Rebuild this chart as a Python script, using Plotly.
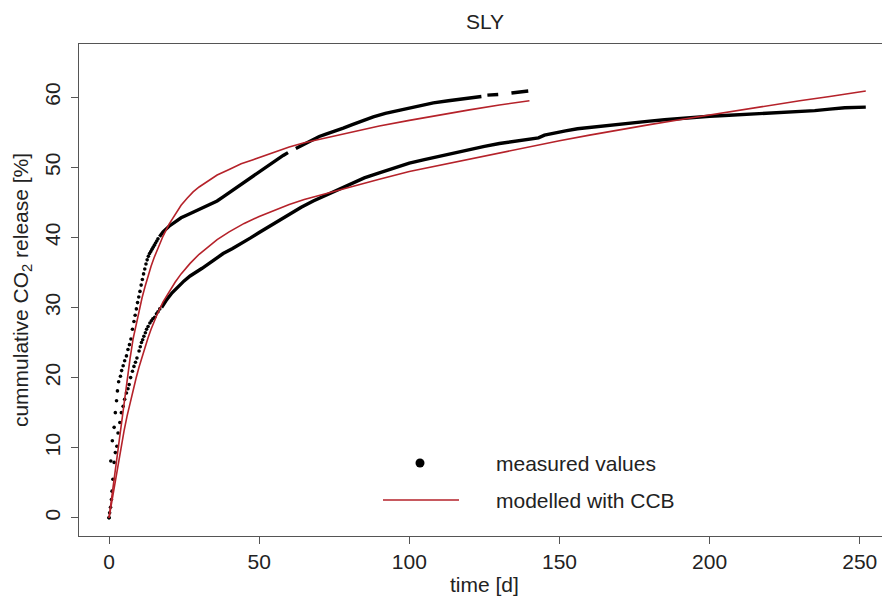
import plotly.graph_objects as go

# ---------------- data ----------------
# measured, incubation A (ends ~140 d): sparse early readings
a_early_t = [0.0, 0.6, 1.1, 1.7, 2.1, 2.5, 2.8, 3.2, 3.8, 4.2, 4.7, 5.2, 5.8, 6.3, 6.8, 7.3, 7.8,
             8.3, 8.7, 9.1, 9.5, 9.9, 10.3, 10.7, 11.1, 11.5, 11.9, 12.3, 12.7, 13.1, 13.5, 13.9,
             14.3, 14.7, 15.1, 15.5, 15.9, 16.3]
a_early_v = [0.0, 8.1, 11.0, 12.9, 15.0, 16.7, 18.1, 19.4, 20.2, 21.0, 21.7, 22.4, 23.1, 24.0, 24.7, 25.5, 26.9,
             28.0, 28.9, 29.8, 30.7, 31.5, 32.3, 33.2, 34.0, 34.8, 35.5, 36.2, 36.8, 37.3, 37.7, 38.0,
             38.3, 38.6, 38.9, 39.2, 39.5, 39.8]
# measured, incubation A: dense readings (None = gap in record)
a_dense_t = [16.8, 18, 20, 22, 24, 26, 28, 30, 32, 34, 36, 38, 40, 42, 44, 46, 48, 50, 52, 54, 56, 58, 59.6,
             None, 62.2, 64, 66, 68, 70, 72, 75, 78, 81, 84, 88, 92, 96, 100, 104, 108, 113, 118, 124,
             None, 126, 129.6, None, 134, 137, 139.6]
a_dense_v = [40.1, 40.8, 41.6, 42.2, 42.8, 43.2, 43.6, 43.9, 44.3, 44.7, 45.2, 45.8, 46.4, 47.0, 47.6, 48.2,
             48.8, 49.4, 50.0, 50.6, 51.2, 51.7, 52.1,
             None, 52.7, 53.1, 53.5, 54.0, 54.4, 54.7, 55.1, 55.6, 56.1, 56.6, 57.2, 57.7, 58.1, 58.5, 58.9,
             59.2, 59.5, 59.8, 60.1, None, 60.3, 60.4, None, 60.6, 60.8, 60.9]

# measured, incubation B (ends ~252 d)
b_early_t = [0.0, 0.2, 0.5, 0.8, 1.0, 1.3, 1.7, 2.1, 2.6, 3.0, 3.6, 4.1, 4.7, 5.2, 5.8, 6.3, 6.7, 7.2, 7.8,
             8.3, 8.8, 9.3, 10.0, 10.4, 10.8, 11.2, 11.6, 12.1, 12.5, 13.0, 13.6, 14.1, 14.6, 15.2, 15.8,
             16.3, 16.9]
b_early_v = [0.0, 0.7, 1.5, 2.6, 3.8, 5.5, 7.9, 9.3, 10.2, 12.1, 13.6, 15.0, 15.9, 16.9, 17.8, 18.4, 19.0,
             20.0, 20.9, 21.6, 22.2, 22.8, 23.8, 24.4, 25.0, 25.4, 25.9, 26.4, 26.9, 27.3, 27.8, 28.1, 28.4,
             28.6, 29.1, 29.4, 29.8]
b_dense_t = [17.5, 19, 21, 23, 25, 27, 29, 31, 33, 35, 38, 41, 44, 47, 50, 53, 56, 60, 64, 68, 72, 76, 80,
             85, 90, 95, 100, 105, 110, 115, 120, 125, 130, 135, 140, 143, 145, 148, 152, 156, 160, 165,
             170, 175, 180, 185, 190, 195, 200, 205, 210, 215, 220, 225, 230, 235, 240, 245, 252]
b_dense_v = [30.0, 31.0, 32.1, 33.0, 33.8, 34.5, 35.0, 35.6, 36.2, 36.8, 37.7, 38.4, 39.1, 39.9, 40.7, 41.5,
             42.3, 43.3, 44.3, 45.2, 46.0, 46.8, 47.6, 48.5, 49.2, 49.9, 50.6, 51.1, 51.6, 52.1, 52.6, 53.0,
             53.4, 53.7, 54.0, 54.2, 54.6, 54.9, 55.2, 55.5, 55.7, 55.9, 56.2, 56.4, 56.6, 56.8, 57.0, 57.2,
             57.3, 57.4, 57.5, 57.6, 57.7, 57.9, 58.0, 58.1, 58.3, 58.5, 58.6]

# modelled with CCB
ma_t = [0, 1, 2, 3, 4, 5, 6, 7, 8, 9, 10, 11, 12, 13, 14, 15, 16, 18, 20, 22, 24, 26, 28, 30, 33, 36,
        40, 44, 48, 52, 56, 60, 65, 70, 75, 80, 90, 100, 110, 120, 130, 140]
ma_v = [0, 3.3, 6.8, 10.2, 13.6, 16.8, 19.8, 22.7, 25.5, 27.6, 29.6, 31.4, 33.0, 34.5, 35.9, 37.1, 38.2,
        40.2, 41.9, 43.3, 44.6, 45.6, 46.5, 47.2, 48.1, 48.9, 49.7, 50.5, 51.1, 51.7, 52.4, 52.9, 53.5,
        54.0, 54.5, 55.0, 55.9, 56.7, 57.5, 58.2, 58.9, 59.5]
mb_t = [0, 1, 2, 3, 4, 5, 6, 7, 8, 9, 10, 11, 12, 13, 14, 15, 16, 18, 20, 22, 24, 27, 30, 33, 36, 40, 45,
        50, 55, 60, 65, 70, 75, 80, 90, 100, 110, 120, 130, 140, 150, 160, 170, 180, 190, 200, 210, 220,
        230, 240, 252]
mb_v = [0, 2.5, 5.2, 7.8, 10.2, 12.4, 14.5, 16.4, 18.2, 19.9, 21.5, 23.0, 24.4, 25.7, 26.9, 28.0, 29.0,
        30.8, 32.3, 33.6, 34.8, 36.3, 37.6, 38.7, 39.7, 40.8, 42.0, 43.0, 43.9, 44.7, 45.4, 46.0, 46.6,
        47.2, 48.3, 49.4, 50.3, 51.2, 52.1, 53.0, 53.8, 54.6, 55.4, 56.1, 56.8, 57.5, 58.2, 58.8, 59.5,
        60.1, 60.9]

x_ticks = [0, 50, 100, 150, 200, 250]
y_ticks = [0, 10, 20, 30, 40, 50, 60]
legend_labels = ["measured values", "modelled with CCB"]
x_title = "time [d]"
y_title = "cummulative CO<sub>2</sub> release [%]"

# ---------------- styling ----------------
FONT = "Liberation Sans, Arial, Helvetica, sans-serif"
FS = 21
TXT = "#222222"
AX = "#555555"
RED = "#B5222A"
W, H = 882, 597
ML, MR, MT, MB = 79, 0, 44, 61
PW, PH = W - ML - MR, H - MT - MB


def px_x(px):
    return (px - ML) / PW


def px_y(py):
    return (H - MB - py) / PH


fig = go.Figure()

for tt, vv in [(a_early_t, a_early_v), (b_early_t, b_early_v)]:
    fig.add_trace(go.Scatter(x=tt, y=vv, mode="markers", showlegend=False,
                             marker=dict(color="black", size=3.6), hoverinfo="skip"))
for tt, vv in [(a_dense_t, a_dense_v), (b_dense_t, b_dense_v)]:
    fig.add_trace(go.Scatter(x=tt, y=vv, mode="lines", showlegend=False, connectgaps=False,
                             line=dict(color="black", width=3.4), hoverinfo="skip"))
for tt, vv in [(ma_t, ma_v), (mb_t, mb_v)]:
    fig.add_trace(go.Scatter(x=tt, y=vv, mode="lines", showlegend=False,
                             line=dict(color=RED, width=1.6), hoverinfo="skip"))

# legend (drawn like R's legend(): symbol column + text column)
fig.add_shape(type="circle", xref="paper", yref="paper", xsizemode="pixel", ysizemode="pixel",
              xanchor=px_x(420), yanchor=px_y(463), x0=-4.5, x1=4.5, y0=-4.5, y1=4.5,
              fillcolor="black", line=dict(width=0))
fig.add_shape(type="line", xref="paper", yref="paper", x0=px_x(383), x1=px_x(459),
              y0=px_y(500), y1=px_y(500), line=dict(color=RED, width=1.6))
for lab, py in zip(legend_labels, [463, 500]):
    fig.add_annotation(text=lab, xref="paper", yref="paper", x=px_x(494), y=px_y(py),
                       xanchor="left", yanchor="middle", showarrow=False,
                       font=dict(family=FONT, size=FS, color=TXT))

# x-axis title, kept fully inside the page
fig.add_annotation(text=x_title, xref="paper", yref="paper", x=px_x(484), y=px_y(584),
                   xanchor="center", yanchor="middle", showarrow=False,
                   font=dict(family=FONT, size=FS, color=TXT))

fig.update_layout(
    width=W, height=H,
    margin=dict(l=ML, r=MR, t=MT, b=MB, autoexpand=False),
    paper_bgcolor="white", plot_bgcolor="white",
    font=dict(family=FONT, size=FS, color=TXT),
    title=dict(text="SLY", x=485 / W, xref="container", xanchor="center",
               y=1 - 22 / H, yref="container", yanchor="middle",
               font=dict(family=FONT, size=FS, color=TXT)),
    showlegend=False,
)
fig.update_xaxes(range=[-10, -10 + PW / 3.003], tickvals=x_ticks, ticks="outside", ticklen=7,
                 tickcolor=AX, showline=True, linecolor=AX, linewidth=1, mirror=True,
                 showgrid=False, zeroline=False, automargin=False,
                 tickfont=dict(family=FONT, size=FS, color=TXT))
fig.update_yaxes(range=[-2.6, 67.6], tickvals=y_ticks, ticks="outside", ticklen=7,
                 tickcolor=AX, showline=True, linecolor=AX, linewidth=1, mirror=False,
                 showgrid=False, zeroline=False, tickangle=-90, ticklabelstandoff=3, automargin=False,
                 tickfont=dict(family=FONT, size=FS, color=TXT),
                 title=dict(text=y_title, standoff=6, font=dict(family=FONT, size=FS, color=TXT)))

fig.write_html("out.html")
